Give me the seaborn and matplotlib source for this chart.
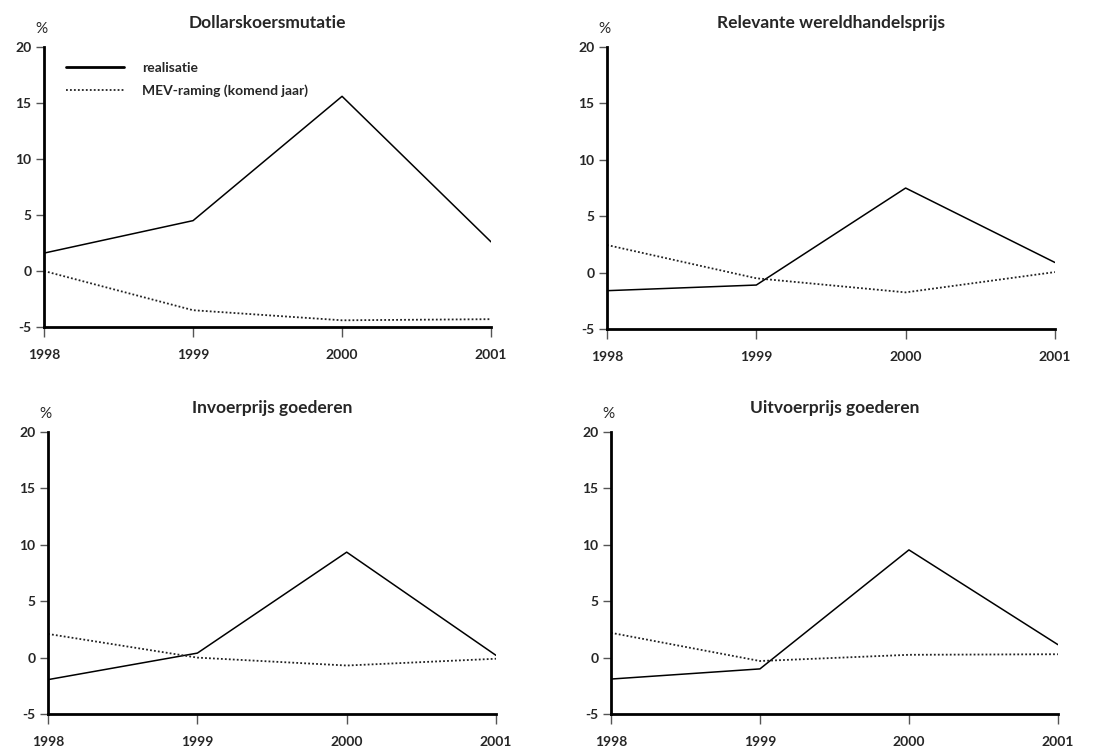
import matplotlib
matplotlib.use("Agg")
import matplotlib.pyplot as plt
import seaborn as sns
import pandas as pd
from matplotlib.lines import Line2D

years = [1998, 1999, 2000, 2001]
titles = ["Dollarskoersmutatie", "Relevante wereldhandelsprijs",
          "Invoerprijs goederen", "Uitvoerprijs goederen"]
realisatie = [
    [1.6, 4.5, 15.6, 2.6],
    [-1.6, -1.1, 7.5, 0.9],
    [-1.95, 0.4, 9.35, 0.2],
    [-1.9, -1.0, 9.55, 1.15],
]
mev_raming = [
    [0.0, -3.5, -4.4, -4.3],
    [2.45, -0.5, -1.75, 0.05],
    [2.1, 0.0, -0.7, -0.1],
    [2.2, -0.3, 0.25, 0.3],
]
series_names = ["realisatie", "MEV-raming (komend jaar)"]
yticks = [-5, 0, 5, 10, 15, 20]

sns.set_style("ticks")
plt.rcParams['font.family'] = ['Lato', 'DejaVu Sans']

fig = plt.figure(figsize=(11.02, 7.49), dpi=100)
positions = [
    [0.040, 0.5634, 0.4056, 0.3738],
    [0.5508, 0.5607, 0.4065, 0.3765],
    [0.0436, 0.0467, 0.4065, 0.3765],
    [0.5544, 0.0467, 0.4056, 0.3765],
]

dotted = (0, (1, 1.2))
for i in range(4):
    ax = fig.add_axes(positions[i])
    df_r = pd.DataFrame({"jaar": years, "waarde": realisatie[i]})
    df_m = pd.DataFrame({"jaar": years, "waarde": mev_raming[i]})
    sns.lineplot(data=df_r, x="jaar", y="waarde", ax=ax, color="black",
                 linewidth=1.1, linestyle="-")
    sns.lineplot(data=df_m, x="jaar", y="waarde", ax=ax, color="#222222",
                 linewidth=1.3, linestyle=dotted)
    ax.set_xlim(1998, 2001)
    ax.set_ylim(-5, 20)
    ax.set_xticks(years)
    ax.set_xticklabels([str(y) for y in years], fontweight="bold", fontsize=10)
    ax.set_yticks(yticks)
    ax.set_yticklabels([str(t) for t in yticks], fontweight="bold", fontsize=10)
    ax.set_xlabel("")
    ax.set_ylabel("")
    for s in ["top", "right"]:
        ax.spines[s].set_visible(False)
    for s in ["left", "bottom"]:
        ax.spines[s].set_linewidth(2.0)
        ax.spines[s].set_color("black")
    ax.tick_params(axis="y", length=6, width=1.0, color="#555555", pad=3)
    ax.tick_params(axis="x", length=7, width=1.0, color="#555555", pad=9)
    ax.set_title(titles[i], fontsize=12.5, fontweight="bold", pad=14)
    ax.text(-0.005, 1.04, "%", transform=ax.transAxes, ha="center",
            va="bottom", fontsize=11)
    if i == 0:
        handles = [Line2D([], [], color="black", linewidth=2.0, linestyle="-"),
                   Line2D([], [], color="#222222", linewidth=1.3, linestyle=dotted)]
        leg = ax.legend(handles, series_names, loc="upper left",
                        bbox_to_anchor=(0.02, 0.99), frameon=False,
                        handlelength=4.2, handletextpad=1.3,
                        labelspacing=0.75, prop={"weight": "bold", "size": 10})

fig.savefig("out.png", dpi=100)
